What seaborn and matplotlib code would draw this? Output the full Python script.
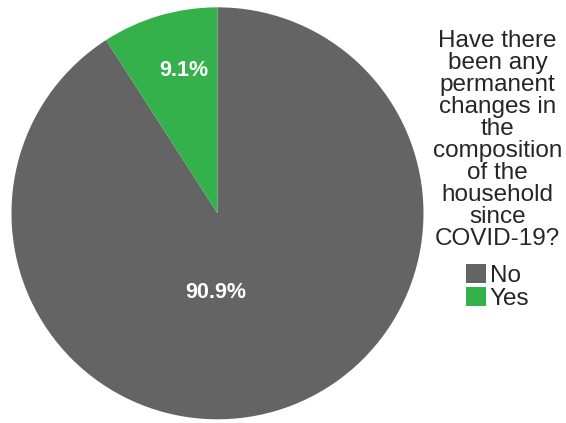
import matplotlib
matplotlib.use("Agg")
import matplotlib.pyplot as plt
import seaborn as sns

# Survey responses (share of households, %)
categories = ["No", "Yes"]
shares = [90.9, 9.1]
legend_title = ("Have there\nbeen any\npermanent\nchanges in\nthe\ncomposition\n"
                "of the\nhousehold\nsince\nCOVID-19?")

sns.set_theme(style="white")
plt.rcParams["font.family"] = ["Liberation Sans", "DejaVu Sans"]

palette = sns.color_palette(["#646464", "#35b14c"])

fig = plt.figure(figsize=(5.66, 4.23), dpi=100)
ax = fig.add_axes([0.0203, 0.0087, 0.7279, 0.974])

wedges, texts, autotexts = ax.pie(
    shares,
    colors=palette,
    startangle=90,
    counterclock=False,
    autopct=lambda p: f"{p:.1f}%",
    pctdistance=0.7,
    wedgeprops=dict(linewidth=0),
    textprops=dict(color="white", fontsize=15.5, fontweight="bold"),
)
ax.set_aspect("equal")
ax.set_xlim(-1, 1)
ax.set_ylim(-1, 1)

# Label placement inside the slices
label_pos = {"No": (-0.007, -0.383), "Yes": (-0.163, 0.692)}
for cat, t in zip(categories, autotexts):
    t.set_position(label_pos[cat])
    t.set_ha("center")
    t.set_va("center")

leg = fig.legend(
    wedges, categories,
    title=legend_title,
    loc="center",
    bbox_to_anchor=(0.879, 0.598),
    frameon=False,
    fontsize=17.5,
    title_fontsize=17.5,
    handlelength=0.85,
    handleheight=0.85,
    handletextpad=0.15,
    labelspacing=0.0,
    borderpad=0,
)
leg.get_title().set_multialignment("center")
leg.get_title().set_linespacing(1.0)
# gap between the question and the entries
leg._legend_box.sep = 10

fig.savefig("out.png", dpi=100)
